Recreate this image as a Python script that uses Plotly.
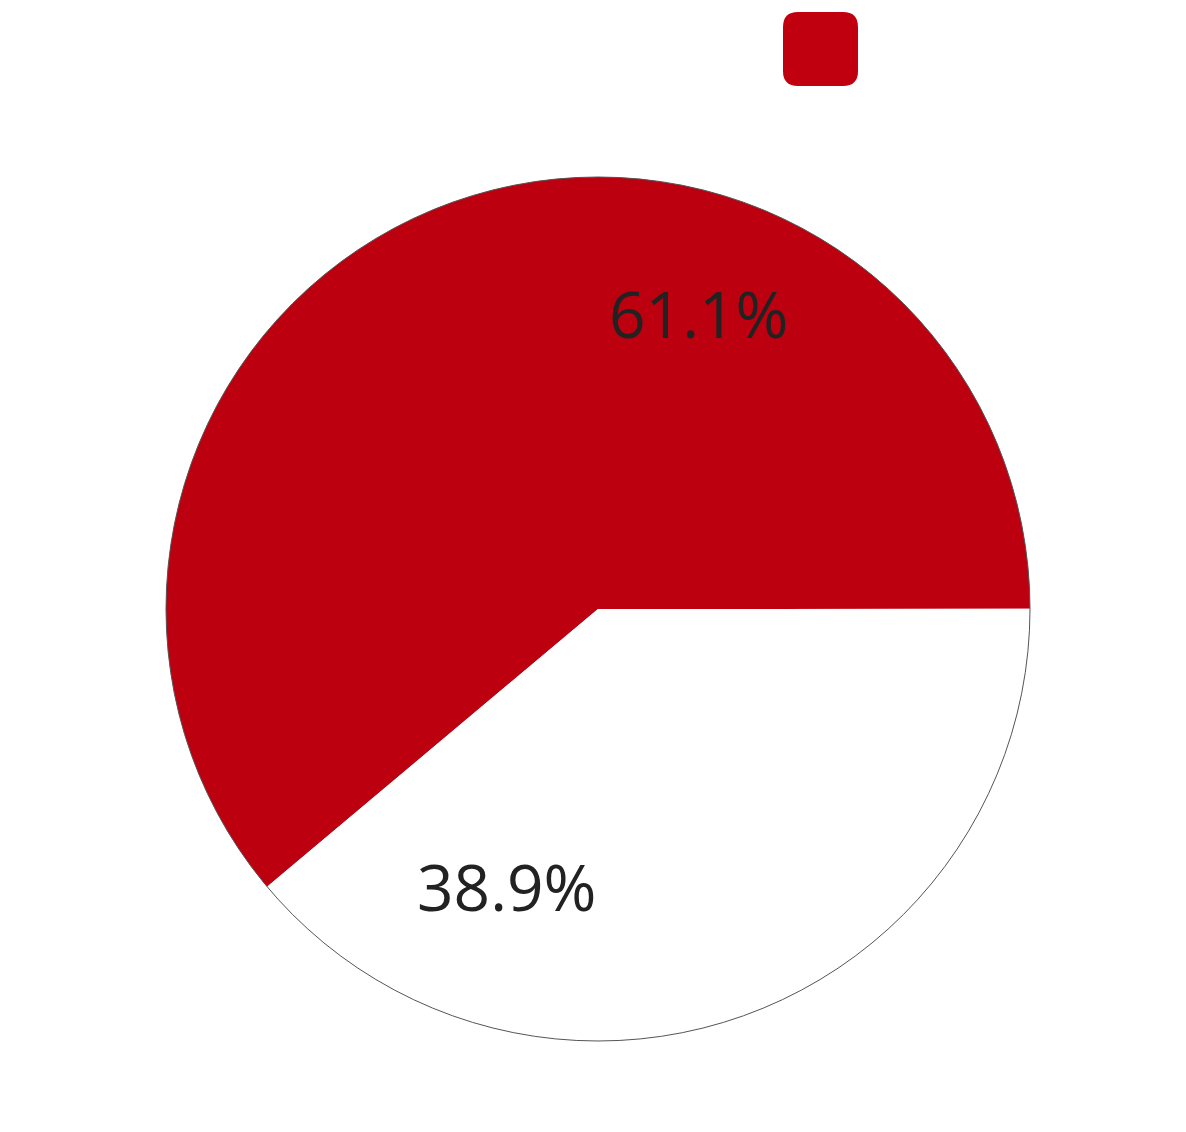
import math
import plotly.graph_objects as go

# Data
categories = ["Category A", "Category B"]
shares = [61.1, 38.9]
slice_colors = ["#bc000f", "#ffffff"]

W, H = 1186, 1132
OFF = 8  # page body margin
# pie geometry (pixels, in screenshot space)
cx, cy, R = 598 - OFF, 609 - OFF, 432

dom_x = [(cx - R) / W, (cx + R) / W]
dom_y = [(H - (cy + R)) / H, (H - (cy - R)) / H]

fig = go.Figure()
fig.add_trace(go.Pie(
    labels=categories,
    values=shares,
    sort=False,
    direction="counterclockwise",
    rotation=230,
    marker=dict(colors=slice_colors, line=dict(width=0)),
    textinfo="none",
    hoverinfo="label+percent",
    showlegend=False,
    domain=dict(x=dom_x, y=dom_y),
))

# outline of the pie
fig.add_shape(type="circle", xref="paper", yref="paper",
              x0=dom_x[0], x1=dom_x[1], y0=dom_y[0], y1=dom_y[1],
              line=dict(color="#555555", width=1), fillcolor="rgba(0,0,0,0)")

# percent labels placed from data
total = sum(shares)
start = 0.0
annotations = []
for v in shares:
    span = v / total * 360
    ang = math.radians(start + span / 2 - 38.5)
    r = 0.70 * R
    px = cx + r * math.cos(ang)
    py = cy - r * math.sin(ang)
    annotations.append(dict(
        x=px / W, y=(H - py) / H, xref="paper", yref="paper",
        text=f"{v / total * 100:.1f}%", showarrow=False,
        font=dict(family="Open Sans", size=64, color="#222222"),
        xanchor="center", yanchor="middle", xshift=5, yshift=9,
    ))
    start += span

# legend swatch (rounded square)
lx0, lx1, ly0, ly1, rr = 783 - OFF, 858 - OFF, 12 - OFF, 86 - OFF, 15
def P(x, y):
    return f"{x / W:.5f},{(H - y) / H:.5f}"
path = (f"M {P(lx0 + rr, ly0)} L {P(lx1 - rr, ly0)} Q {P(lx1, ly0)} {P(lx1, ly0 + rr)} "
        f"L {P(lx1, ly1 - rr)} Q {P(lx1, ly1)} {P(lx1 - rr, ly1)} "
        f"L {P(lx0 + rr, ly1)} Q {P(lx0, ly1)} {P(lx0, ly1 - rr)} "
        f"L {P(lx0, ly0 + rr)} Q {P(lx0, ly0)} {P(lx0 + rr, ly0)} Z")
fig.add_shape(type="path", xref="paper", yref="paper", path=path,
              fillcolor="#c0000f", line=dict(width=0))

fig.update_layout(
    width=W, height=H,
    margin=dict(l=0, r=0, t=0, b=0),
    paper_bgcolor="#ffffff",
    plot_bgcolor="#ffffff",
    annotations=annotations,
)

fig.write_html("out.html")
